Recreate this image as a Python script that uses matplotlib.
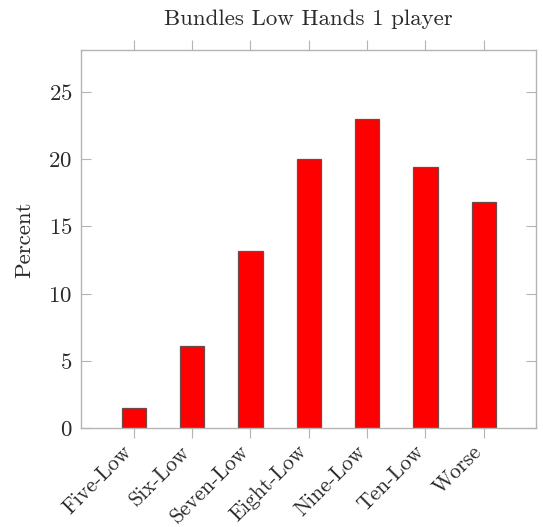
import numpy as np
import matplotlib
matplotlib.use("Agg")
import matplotlib.pyplot as plt
import matplotlib.transforms as mtransforms

# data
hands = ["Five-Low", "Six-Low", "Seven-Low", "Eight-Low", "Nine-Low", "Ten-Low", "Worse"]
percent = [1.5, 6.1, 13.2, 20.0, 23.0, 19.4, 16.8]

# look: computer modern-ish, grey frame
plt.rcParams["font.family"] = "cmr10"
plt.rcParams["axes.formatter.use_mathtext"] = True
plt.rcParams["mathtext.fontset"] = "cm"
frame = "#b4b4b4"
txt = "#2a2a2a"
fs = 16.5

fig = plt.figure(figsize=(5.43, 5.27), dpi=100)
ax = fig.add_axes([0.1486, 0.187, 0.838, 0.718])

x = np.arange(len(hands))
ax.bar(x, percent, width=0.42, color="#ff0000", edgecolor="#6e4a4a", linewidth=0.9)

ax.set_xlim(-0.91, len(hands) - 1 + 0.89)
ax.set_ylim(0, 28.1)
ax.set_yticks([0, 5, 10, 15, 20, 25])
ax.set_xticks(x)
ax.set_xticklabels([])

# rotated category labels, anchored at their right-middle, a bit left of the tick
lab_tf = ax.get_xaxis_transform() + mtransforms.ScaledTranslation(-5 / 100, -20 / 100, fig.dpi_scale_trans)
for xi, name in zip(x, hands):
    ax.text(xi, 0, name, transform=lab_tf, rotation=45, rotation_mode="anchor",
            ha="right", va="center", fontsize=15.5, color=txt)

for s in ax.spines.values():
    s.set_color(frame)
    s.set_linewidth(1.0)

ax.tick_params(axis="y", direction="in", left=True, right=True, length=7,
               color=frame, labelsize=fs, labelcolor=txt, pad=6)
ax.tick_params(axis="x", direction="out", bottom=True, top=True, length=7,
               color=frame)

ax.set_ylabel("Percent", fontsize=fs, color=txt, labelpad=10)
ax.set_title("Bundles Low Hands 1 player", fontsize=fs, color=txt, pad=18)

plt.savefig("out.png", dpi=100)
